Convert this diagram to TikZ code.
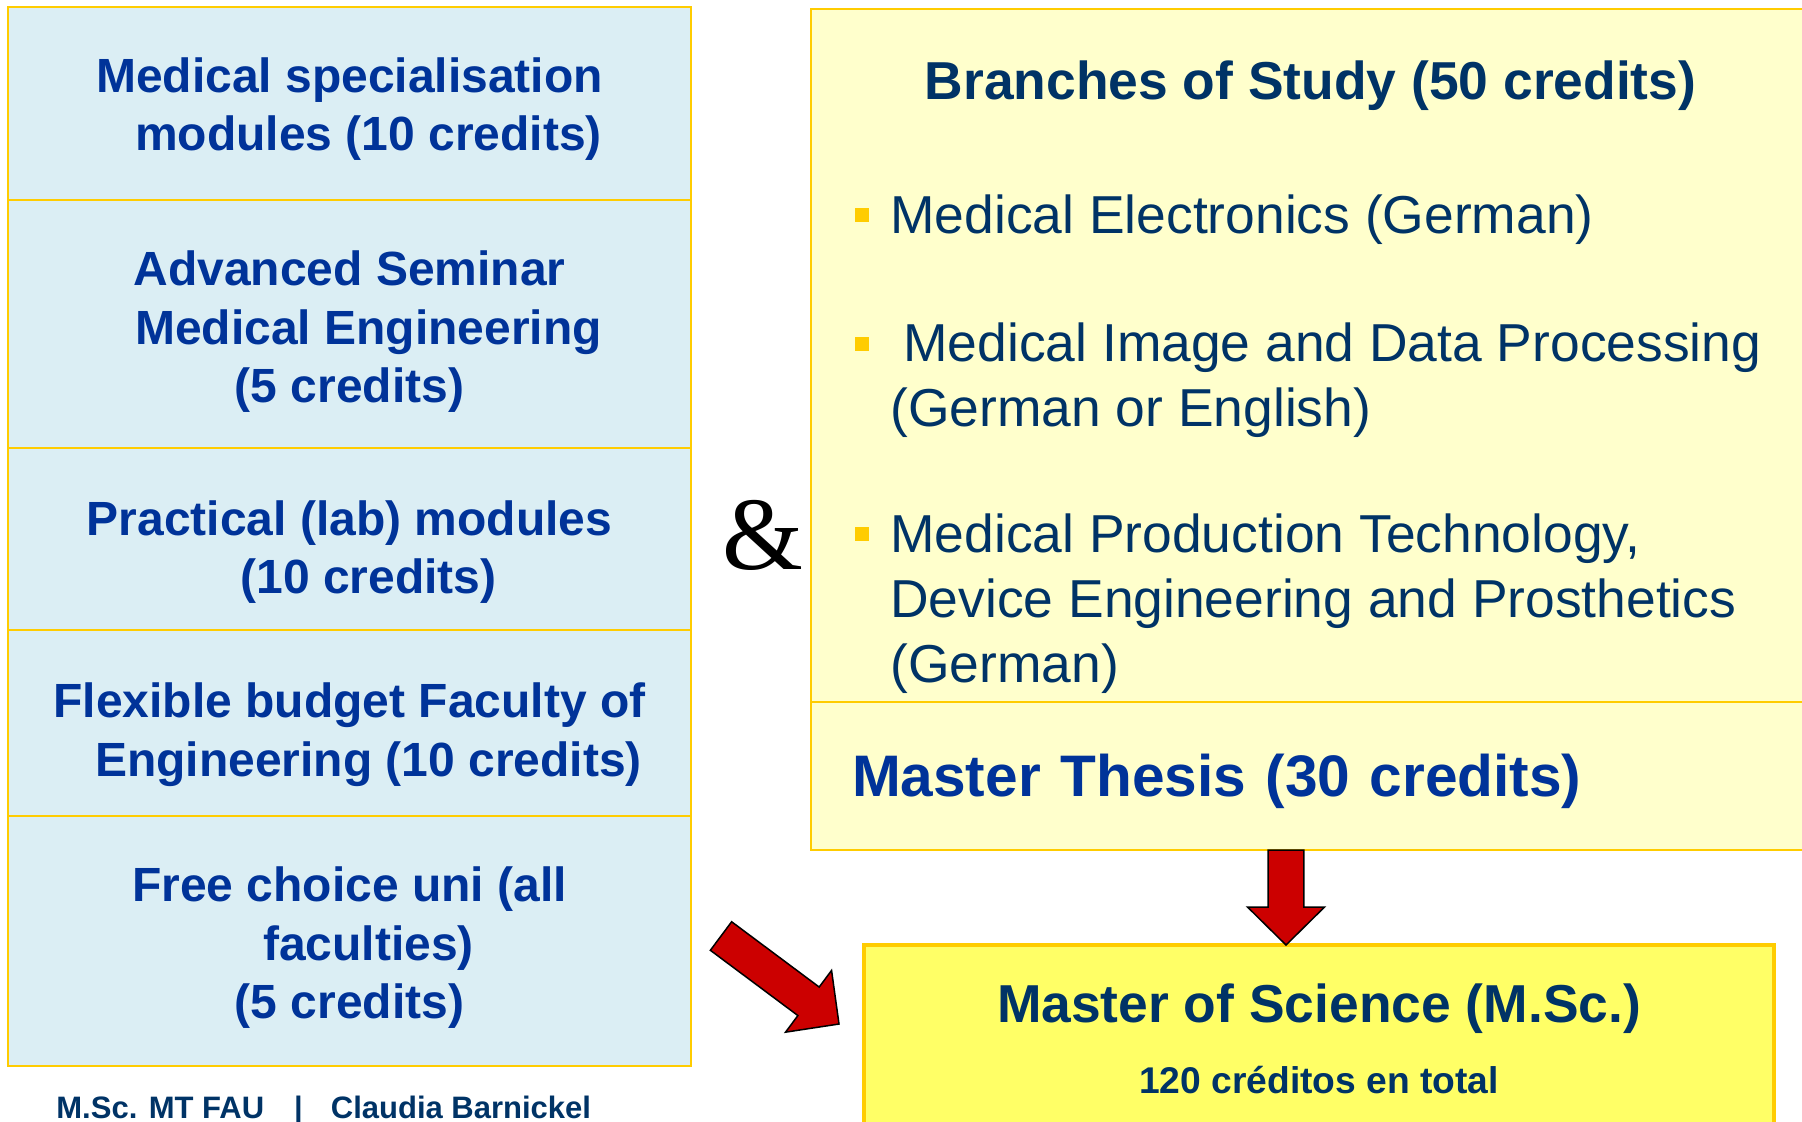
\documentclass[tikz,border=0pt]{standalone}
\usepackage{fontspec}
\setmainfont{Liberation Sans}
\newfontfamily\ampfont{Liberation Serif}
\usetikzlibrary{calc,positioning}

\definecolor{faublue}{HTML}{003399}
\definecolor{faunavy}{HTML}{003366}
\definecolor{boxblue}{HTML}{DBEEF4}
\definecolor{boxcream}{HTML}{FFFFCC}
\definecolor{boxyellow}{HTML}{FFFF66}
\definecolor{rimgold}{HTML}{FFCC00}
\definecolor{arrowred}{HTML}{CC0000}

% block arrow from tail #1 to tip #2
\newcommand{\blockarrow}[2]{%
  \coordinate (hb) at ($(#2)!19pt!(#1)$);
  \draw[blockarrow] ($(#1)!8.9pt!90:(#2)$) -- ($(hb)!8.9pt!90:(#2)$)
    -- ($(hb)!19.25pt!90:(#2)$) -- (#2) -- ($(hb)!19.25pt!-90:(#2)$)
    -- ($(hb)!8.9pt!-90:(#2)$) -- ($(#1)!8.9pt!-90:(#2)$) -- cycle;}
\newcommand{\itembullet}{\llap{\textcolor{rimgold}{\rule[5.5pt]{7pt}{7pt}}\hspace{10.5pt}}}
% push a centred text block down by #1
\newcommand{\textdrop}[1]{\rule{0pt}{\dimexpr0.72em+#1*2\relax}}

\begin{document}
\begin{tikzpicture}[
    x=0.5pt, y=0.5pt,
    rowbox/.style={
      draw=rimgold,
      fill=boxblue,
      line width=0.75pt,
      outer sep=0pt,
      minimum width=341.5pt,
      align=center,
      text=faublue,
      font=\bfseries\fontsize{24}{29.3}\selectfont
    },
    creambox/.style={
      draw=rimgold,
      fill=boxcream,
      line width=0.75pt,
      outer sep=0pt,
      minimum width=499.5pt
    },
    heading/.style={inner sep=0pt, text=faunavy, font=\bfseries\fontsize{26.7}{32}\selectfont},
    branch/.style={inner sep=0pt, anchor=north west, align=left, text=faunavy,
      font=\fontsize{26.7}{32.5}\selectfont},
    blockarrow/.style={draw=black, fill=arrowred, line width=0.75pt, line join=miter}
  ]
    \useasboundingbox (0,0) rectangle (1802,-1121);

    % left column of modules
    \node[rowbox, minimum height=96.5pt, anchor=north west] (medspec) at (8,-7)
      {\textdrop{2.9pt}Medical specialisation\\\hspace*{19pt}modules (10 credits)};
    \node[rowbox, minimum height=124pt, below=0pt of medspec] (seminar)
      {\textdrop{4pt}Advanced Seminar\\\hspace*{19pt}Medical Engineering\\(5 credits)};
    \node[rowbox, minimum height=91pt, below=0pt of seminar] (practical)
      {\textdrop{6.5pt}Practical (lab) modules\\\hspace*{19pt}(10 credits)};
    \node[rowbox, minimum height=93pt, below=0pt of practical] (flexible)
      {\textdrop{5.75pt}Flexible budget Faculty of\\\hspace*{19pt}Engineering (10 credits)};
    \node[rowbox, minimum height=125pt, below=0pt of flexible] (freechoice)
      {\textdrop{3.5pt}Free choice uni (all\\\hspace*{19pt}faculties)\\(5 credits)};

    \node[inner sep=0pt, font=\ampfont\fontsize{52}{52}\selectfont] (amp) at (763,-535) {\&};

    % branches and thesis
    \node[creambox, minimum height=346.5pt, anchor=north west] (branches) at (811,-9) {};
    \node[heading] (bhead) at ([yshift=-38.25pt]branches.north) {Branches of Study (50 credits)};
    \node[branch] (electronics) at (890,-194)
      {\itembullet Medical Electronics (German)};
    \node[branch, below=39pt of electronics.south west, anchor=north west] (imaging)
      {\itembullet\hspace*{6.5pt}Medical Image and Data Processing\\(German or English)};
    \node[branch, below=37.5pt of imaging.south west, anchor=north west] (production)
      {\itembullet Medical Production Technology,\\Device Engineering and Prosthetics\\(German)};

    \node[creambox, minimum height=74pt, below=0pt of branches, text width=458.5pt,
      inner xsep=20.5pt, align=left, text=faublue,
      font=\bfseries\fontsize{29.3}{34}\selectfont] (thesis)
      {\textdrop{2.9pt}Master Thesis (30 credits)};

    % degree
    \node[draw=rimgold, line width=2pt, fill=boxyellow, outer sep=0pt, minimum width=455pt,
      minimum height=110pt, anchor=north west] (msc) at (864,-945) {};
    \node[heading] (msctitle) at ([yshift=-31.75pt]msc.north) {Master of Science (M.Sc.)};
    \node[inner sep=0pt, text=faunavy, font=\bfseries\fontsize{18.6}{22}\selectfont] (msctotal)
      at ([yshift=-67.5pt]msc.north) {120 créditos en total};

    \coordinate (downtail) at ([xshift=-12.25pt]thesis.south);
    \coordinate (downtip) at (downtail |- msc.north);
    \blockarrow{downtail}{downtip}
    \coordinate (diagtail) at (721,-936);
    \coordinate (diagtip) at (839,-1024);
    \blockarrow{diagtail}{diagtip}

    \node[inner sep=0pt, anchor=base west, text=faunavy, font=\bfseries\fontsize{15.5}{18}\selectfont]
      (footer) at (56,-1118) {M.Sc. MT FAU\hspace{15pt}|\hspace{14pt}Claudia Barnickel};
  \end{tikzpicture}
\end{document}
